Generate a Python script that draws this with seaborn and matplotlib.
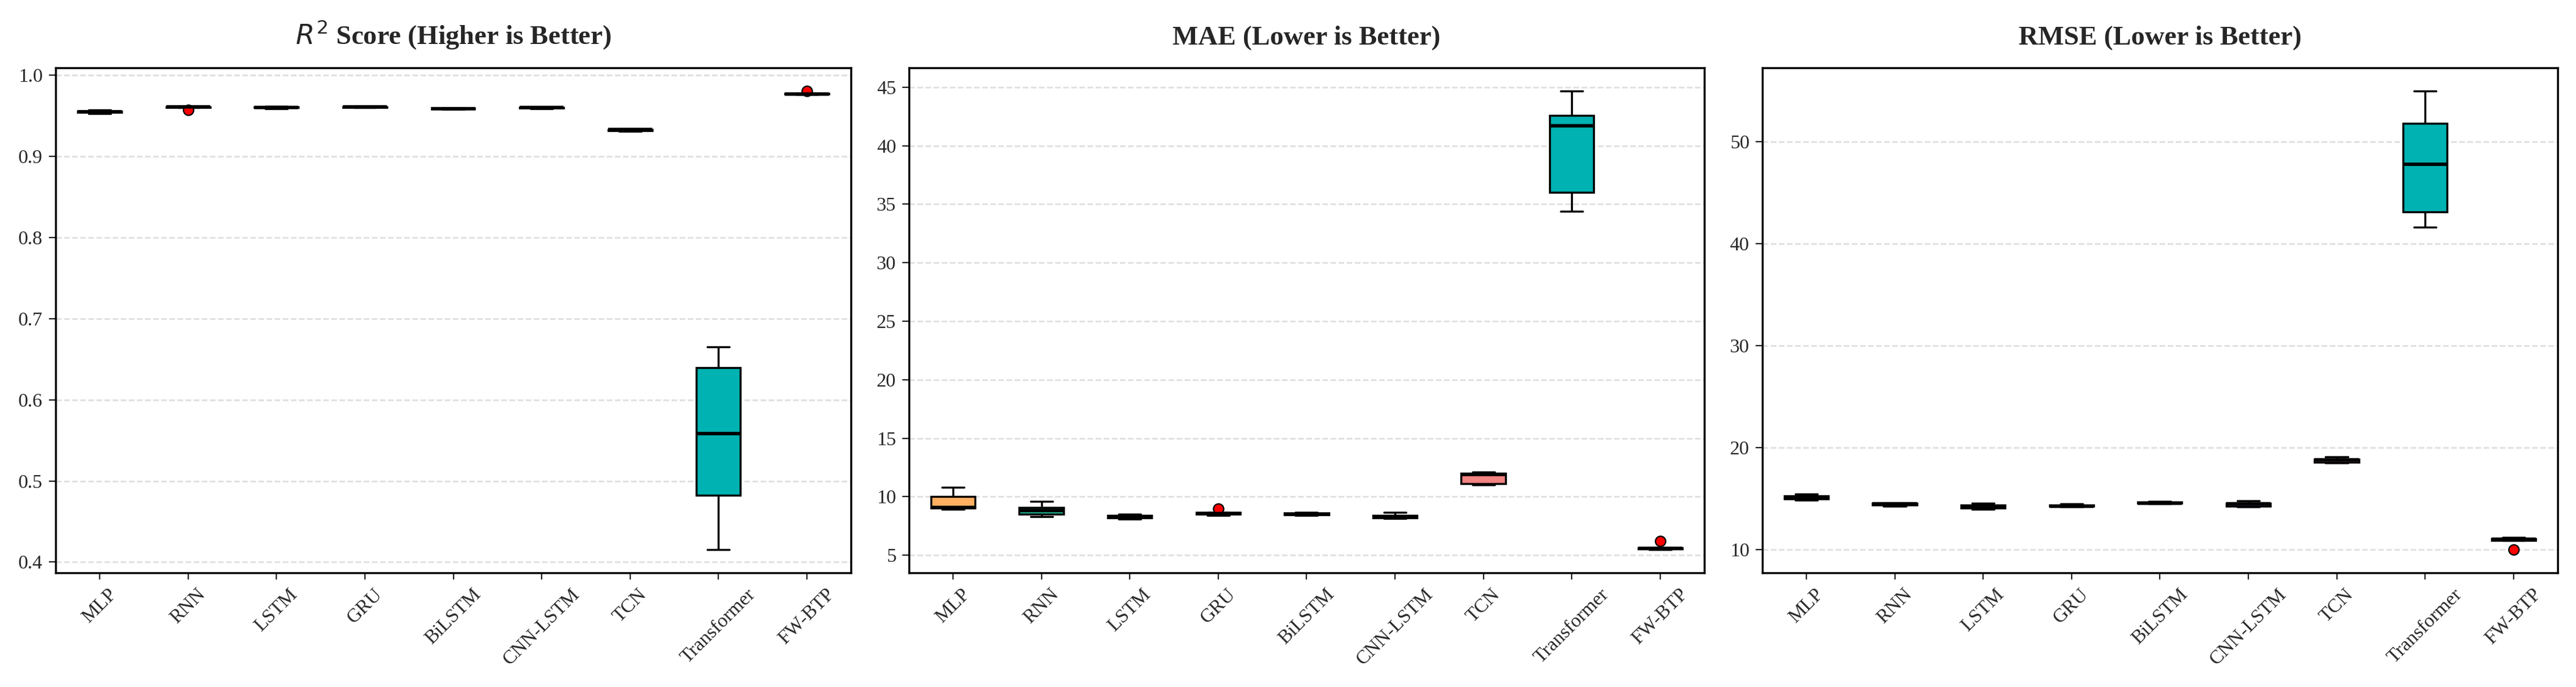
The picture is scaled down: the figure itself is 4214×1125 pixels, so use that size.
import pandas as pd
import seaborn as sns
import matplotlib.pyplot as plt

sns.set_style("white")
plt.rcParams['font.family'] = ['Liberation Serif', 'DejaVu Serif']
plt.rcParams['mathtext.fontset'] = 'dejavusans'

MODELS = ['MLP', 'RNN', 'LSTM', 'GRU', 'BiLSTM', 'CNN-LSTM', 'TCN', 'Transformer', 'FW-BTP']
COLORS = ['#FFB061', '#1DB592', '#6A5ACD', '#E6A23C', '#4CAF50', '#9B59B6', '#F28482', '#00B2B2', '#E74C3C']

# runs per model (five runs, plus one extra where the reference shows an outlier)
R2 = {
    'MLP': [0.953, 0.954, 0.955, 0.956, 0.957],
    'RNN': [0.960, 0.9605, 0.961, 0.961, 0.9615, 0.957],
    'LSTM': [0.959, 0.960, 0.9605, 0.961, 0.9615],
    'GRU': [0.960, 0.9605, 0.961, 0.961, 0.9615],
    'BiLSTM': [0.958, 0.9585, 0.959, 0.959, 0.9595],
    'CNN-LSTM': [0.959, 0.9595, 0.960, 0.9602, 0.9605],
    'TCN': [0.931, 0.932, 0.933, 0.933, 0.934],
    'Transformer': [0.415, 0.482, 0.558, 0.640, 0.665],
    'FW-BTP': [0.976, 0.9765, 0.977, 0.977, 0.9775, 0.981],
}
MAE = {
    'MLP': [8.9, 9.0, 9.1, 10.0, 10.8],
    'RNN': [8.3, 8.5, 8.8, 9.1, 9.6],
    'LSTM': [8.1, 8.2, 8.3, 8.4, 8.5],
    'GRU': [8.4, 8.5, 8.55, 8.6, 8.65, 8.95],
    'BiLSTM': [8.4, 8.45, 8.5, 8.6, 8.65],
    'CNN-LSTM': [8.15, 8.2, 8.3, 8.4, 8.65],
    'TCN': [11.0, 11.1, 11.9, 12.0, 12.1],
    'Transformer': [34.4, 36.0, 41.7, 42.6, 44.7],
    'FW-BTP': [5.45, 5.5, 5.55, 5.6, 5.65, 6.2],
}
RMSE = {
    'MLP': [14.9, 15.0, 15.2, 15.3, 15.5],
    'RNN': [14.3, 14.4, 14.5, 14.55, 14.6],
    'LSTM': [14.0, 14.1, 14.3, 14.4, 14.6],
    'GRU': [14.2, 14.25, 14.3, 14.4, 14.5],
    'BiLSTM': [14.5, 14.55, 14.6, 14.7, 14.75],
    'CNN-LSTM': [14.2, 14.3, 14.5, 14.6, 14.8],
    'TCN': [18.5, 18.6, 18.8, 18.9, 19.1],
    'Transformer': [41.6, 43.1, 47.8, 51.8, 55.0],
    'FW-BTP': [10.9, 11.0, 11.05, 11.1, 11.2, 10.0],
}

panels = [(R2, r'$R^2$ Score (Higher is Better)'),
          (MAE, 'MAE (Lower is Better)'),
          (RMSE, 'RMSE (Lower is Better)')]

fig, axes = plt.subplots(1, 3, figsize=(21.07, 5.625), dpi=200)

for ax, (data, title) in zip(axes, panels):
    df = pd.DataFrame([(m, v) for m in MODELS for v in data[m]], columns=['Model', 'Value'])
    sns.boxplot(data=df, x='Model', y='Value', order=MODELS, hue='Model', hue_order=MODELS,
                palette=COLORS, legend=False, ax=ax, width=0.5, linewidth=1.2,
                saturation=1, linecolor='black',
                medianprops=dict(color='black', linewidth=2),
                flierprops=dict(marker='o', markerfacecolor='red', markeredgecolor='black',
                                markersize=6, markeredgewidth=0.8))
    ax.set_title(title, fontsize=16, fontweight='bold', pad=14)
    ax.set_xlabel('')
    ax.set_ylabel('')
    ax.grid(axis='y', linestyle='--', color='#dddddd', linewidth=0.9)
    ax.set_axisbelow(True)
    ax.tick_params(axis='x', rotation=45, labelsize=11.5, length=4)
    ax.tick_params(axis='y', labelsize=11.5, length=4, left=True)
    ax.tick_params(axis='x', bottom=True)
    for s in ax.spines.values():
        s.set_color('black')
        s.set_linewidth(1.2)

axes[1].set_yticks(range(5, 46, 5))
axes[2].set_yticks(range(10, 51, 10))

plt.tight_layout(w_pad=1.5)
plt.savefig('out.png', dpi=200)
